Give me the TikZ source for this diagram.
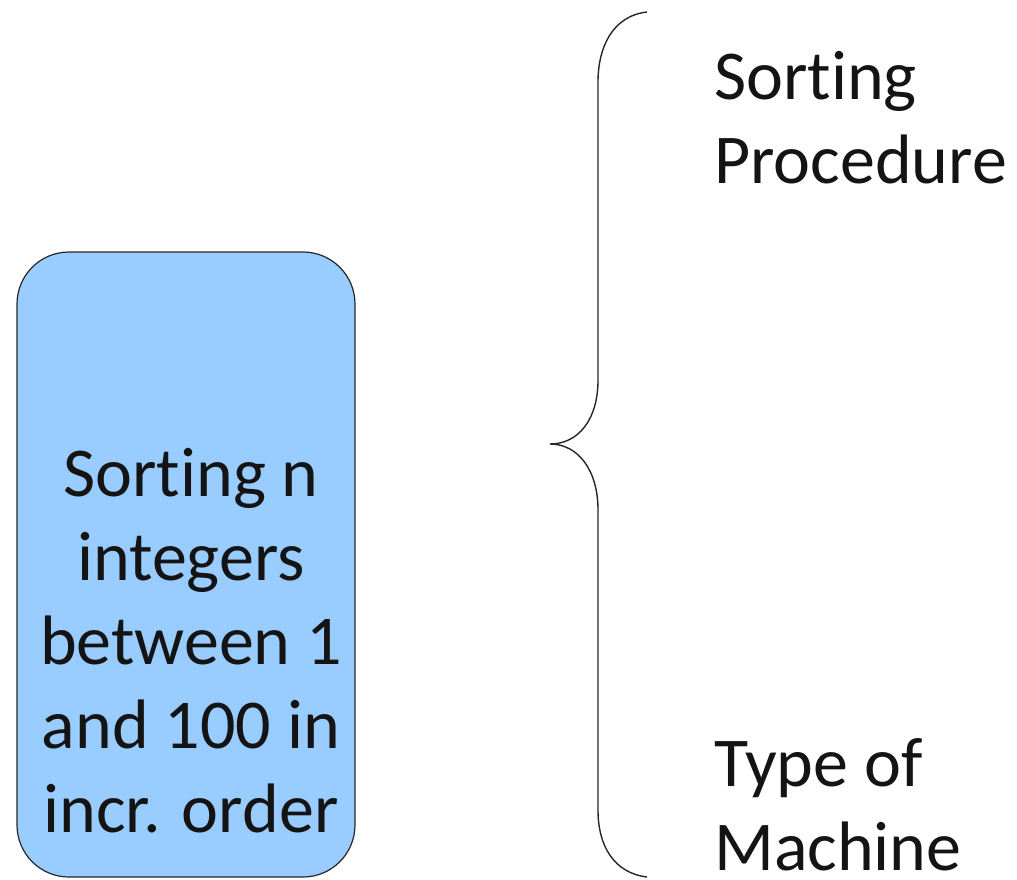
\documentclass[tikz,border=0pt]{standalone}
\usepackage{fontspec}
\setmainfont[Ligatures=NoCommon]{Carlito}
\definecolor{boxblue}{HTML}{99CCFF}
\tikzset{
  x=1pt, y=-1pt,
  bigtext/.style={font=\fontsize{70}{84}\selectfont, inner sep=0pt, text=black!92},
  taskbox/.style={draw=black!85, line width=1.2pt, fill=boxblue, rounded corners=52pt,
                  minimum width=338pt, minimum height=625pt, inner sep=0pt},
  brace/.style={draw=black!85, line width=1.4pt}
}
\begin{document}
\begin{tikzpicture}
  \useasboundingbox (0,0) rectangle (1017,879);
  % the problem box
  \node[taskbox] (task) at (186,564.5) {};
  \node[bigtext, align=center, anchor=base] (tasktext) at (191,832)
    {Sorting n\\integers\\between 1\\and 100 in\\incr. order};
  % the curly brace
  \coordinate (btop) at (647,12);
  \coordinate (btip) at (550,444);
  \coordinate (bbot) at (647,877);
  \draw[brace] (btop) .. controls (612,16) and (598,48) .. (598,82)
    -- (598,380) .. controls (598,420) and (578,444) .. (btip)
    .. controls (578,444) and (598,470) .. (598,510)
    -- (598,810) .. controls (598,846) and (614,873) .. (bbot);
  % labels on the right
  \node[bigtext, align=left, anchor=base west] (proc) at (714,183) {Sorting\\Procedure};
  \node[bigtext, align=left, anchor=base west] (mach) at (714,870) {Type of\\Machine};
\end{tikzpicture}
\end{document}
